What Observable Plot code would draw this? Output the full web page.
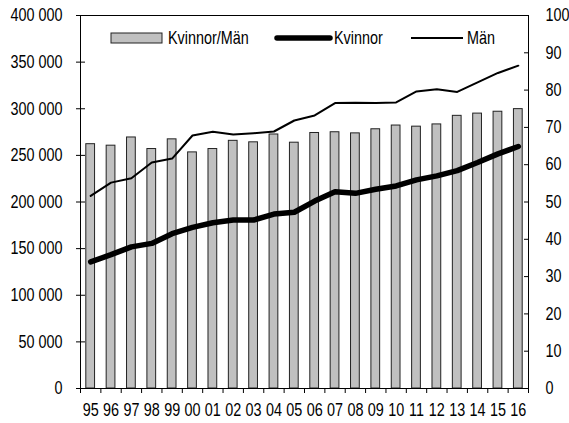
<!DOCTYPE html>
<html>
<head>
<meta charset="utf-8">
<script src="https://cdn.jsdelivr.net/npm/d3@7"></script>
<script src="https://cdn.jsdelivr.net/npm/@observablehq/plot@0.6"></script>
<style>
  html, body { margin: 0; padding: 0; background: #fff; }
  #chart { position: relative; width: 569px; height: 423px; }
</style>
</head>
<body>
<div id="chart"></div>
<script>
// Year labels (x categories)
const years = ["95","96","97","98","99","00","01","02","03","04","05","06","07","08","09","10","11","12","13","14","15","16"];
// Kvinnor (women), left axis
const kvinnor = [135800,143500,151900,155600,166000,172800,177800,180600,180600,187100,189000,201000,211100,209300,213600,217200,223700,228000,233700,242300,251600,259500];
// Män (men), left axis
const man = [206500,220800,225500,242300,246600,271300,275300,272400,273800,275600,287400,292800,306100,306500,306100,306800,318600,320800,318000,328300,338400,346200];
// Kvinnor/Män ratio (%), right axis
const ratio = [65.5,65.1,67.3,64.2,66.8,63.3,64.2,66.4,66.0,68.1,65.9,68.5,68.7,68.4,69.5,70.5,70.2,70.8,73.1,73.7,74.2,74.9];
// Axis ticks
const leftTicks = [0,50000,100000,150000,200000,250000,300000,350000,400000];
const rightTicks = [0,10,20,30,40,50,60,70,80,90,100];
const legendLabels = ["Kvinnor/Män","Kvinnor","Män"];

const k = 400000 / 100; // right-axis value -> left scale
const data = years.map((y, i) => ({i, year: y, kvinnor: kvinnor[i], man: man[i], ratio: ratio[i]}));
const fmt = d => d3.format(",")(d).replace(/,/g, " ");
const FONT = "'Liberation Sans', Arial, sans-serif";
const SQUEEZE = 0.8; // emulate the condensed typeface of the original

const plot = Plot.plot({
  width: 569,
  height: 423,
  marginLeft: 80,
  marginRight: 41,
  marginTop: 15,
  marginBottom: 35,
  style: {fontFamily: FONT, fontSize: "18px", color: "#000", background: "#fff", overflow: "visible"},
  x: {type: "linear", domain: [-0.5, years.length - 0.5], axis: null},
  y: {domain: [0, 400000], axis: null},
  marks: [
    Plot.rectY(data, {x1: d => d.i - 0.215, x2: d => d.i + 0.215, y: d => d.ratio * k, fill: "#c0c0c0", stroke: "#222", strokeWidth: 1}),
    Plot.lineY(data, {x: "i", y: "man", stroke: "#000", strokeWidth: 2}),
    Plot.lineY(data, {x: "i", y: "kvinnor", stroke: "#000", strokeWidth: 5.5, strokeLinejoin: "round", strokeLinecap: "round"}),
    Plot.frame({stroke: "#000", strokeWidth: 1}),
    // left axis
    Plot.axisY(leftTicks, {anchor: "left", tickSize: 9, insetLeft: 5, text: null, label: null}),
    Plot.axisY(leftTicks, {anchor: "left", tickSize: 0, tickPadding: 18, tickFormat: fmt, label: null, fill: "#000"}),
    // right axis
    Plot.axisY(rightTicks.map(v => v * k), {anchor: "right", tickSize: 5, insetRight: 5, text: null, label: null}),
    Plot.axisY(rightTicks.map(v => v * k), {anchor: "right", tickSize: 0, tickPadding: 17, tickFormat: d => String(d / k), label: null, fill: "#000", textAnchor: "start"}),
    // x axis
    Plot.axisX(d3.range(-0.5, years.length, 1), {anchor: "bottom", tickSize: 5, text: null, label: null}),
    Plot.axisX(d3.range(years.length), {anchor: "bottom", tickSize: 0, tickPadding: 15, tickFormat: i => years[i], label: null, fill: "#000"})
  ]
});

document.getElementById("chart").appendChild(plot);

// Legend inside the plot area
const svg = d3.select(plot);
const g = svg.append("g").attr("font-family", FONT).attr("font-size", 18).attr("text-anchor", "start");
const ly = 38;
g.append("rect").attr("x", 111).attr("y", 33).attr("width", 51).attr("height", 10)
  .attr("fill", "#c0c0c0").attr("stroke", "#222");
g.append("text").attr("transform", `translate(168,${ly})`).attr("dy", "0.35em").text(legendLabels[0]);
g.append("line").attr("x1", 277).attr("x2", 330).attr("y1", ly).attr("y2", ly)
  .attr("stroke", "#000").attr("stroke-width", 5.5).attr("stroke-linecap", "round");
g.append("text").attr("transform", `translate(334,${ly})`).attr("dy", "0.35em").text(legendLabels[1]);
g.append("line").attr("x1", 411).attr("x2", 463).attr("y1", ly).attr("y2", ly)
  .attr("stroke", "#000").attr("stroke-width", 2);
g.append("text").attr("transform", `translate(467,${ly})`).attr("dy", "0.35em").text(legendLabels[2]);

// Horizontally condense every text around its own anchor point
svg.selectAll("text").each(function() {
  const t = this.getAttribute("transform") || "";
  this.setAttribute("transform", `${t} scale(${SQUEEZE},1)`);
});
</script>
</body>
</html>
